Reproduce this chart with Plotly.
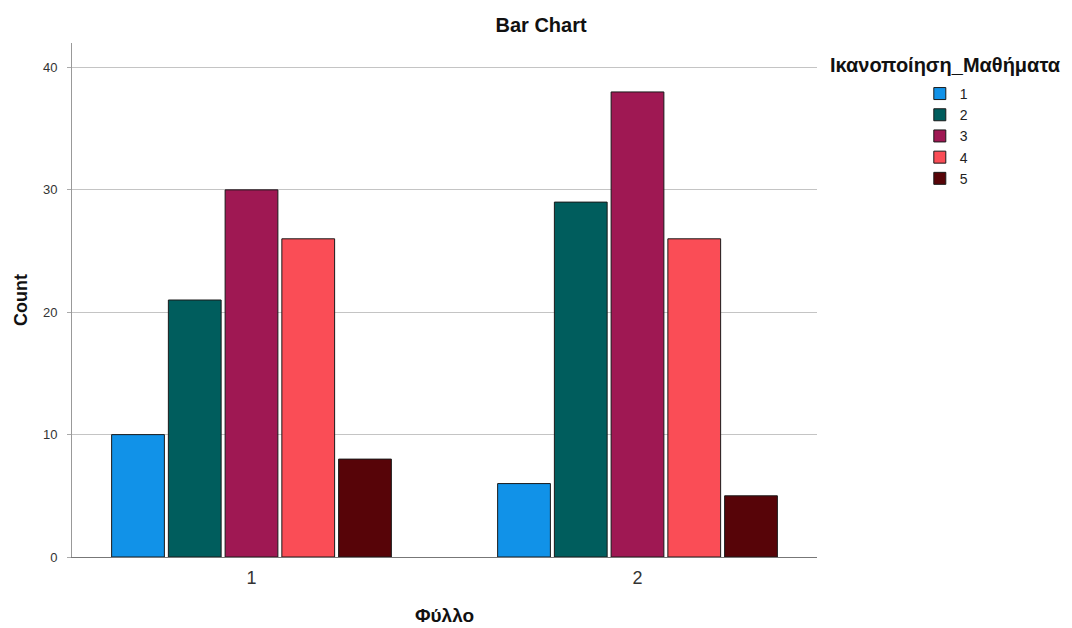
import plotly.graph_objects as go

categories = [1, 2]
tick_labels = ["1", "2"]
series_names = ["1", "2", "3", "4", "5"]
values_1 = [10, 6]
values_2 = [21, 29]
values_3 = [30, 38]
values_4 = [26, 26]
values_5 = [8, 5]
series_values = [values_1, values_2, values_3, values_4, values_5]
colors = ["#1192E8", "#005D5D", "#9F1853", "#FA4D56", "#570408"]

FONT = "Liberation Sans, Arial, sans-serif"

fig = go.Figure()
for name, vals, col in zip(series_names, series_values, colors):
    fig.add_trace(go.Bar(
        x=categories, y=vals, name=name,
        marker=dict(color=col, line=dict(color="#1a1a1a", width=1)),
    ))

fig.update_layout(
    width=1064, height=620,
    paper_bgcolor="white", plot_bgcolor="white",
    margin=dict(l=64, r=255, t=35, b=71, autoexpand=False),
    barmode="group", bargap=0.265, bargroupgap=0.07,
    font=dict(family=FONT, color="#222"),
    title=dict(text="<b>Bar Chart</b>", x=0.501, xanchor="center", y=0.9726, yanchor="middle",
               font=dict(size=20, color="#111")),
    showlegend=True,
    legend=dict(x=1.138, xanchor="left", y=0.932, yanchor="top",
                font=dict(size=14, color="#222"), itemwidth=30,
                tracegroupgap=0, bgcolor="rgba(0,0,0,0)"),
    annotations=[dict(text="<b>Ικανοποίηση_Μαθήματα</b>", xref="paper", yref="paper",
                      x=1.0148, xanchor="left", y=0.957, yanchor="middle", showarrow=False,
                      font=dict(size=20, color="#111"))],
)

fig.update_xaxes(
    range=[1 - 0.465, 2 + 0.465], tickvals=categories, ticktext=tick_labels,
    showline=True, linecolor="#777", linewidth=1, showgrid=False, ticks="",
    tickfont=dict(size=18, color="#333"), ticklabelstandoff=4,
    title=dict(text="<b>Φύλλο</b>", font=dict(size=19, color="#111"), standoff=22),
)
fig.update_yaxes(
    range=[0, 42], tickvals=[0, 10, 20, 30, 40],
    showline=True, linecolor="#999", linewidth=1,
    showgrid=True, gridcolor="#c4c4c4", gridwidth=1,
    ticks="outside", ticklen=4, tickcolor="#aaa", ticklabelstandoff=7,
    tickfont=dict(size=13, color="#333"), zeroline=False,
    title=dict(text="<b>Count</b>", font=dict(size=18, color="#111"), standoff=10),
)

fig.write_html("out.html")
